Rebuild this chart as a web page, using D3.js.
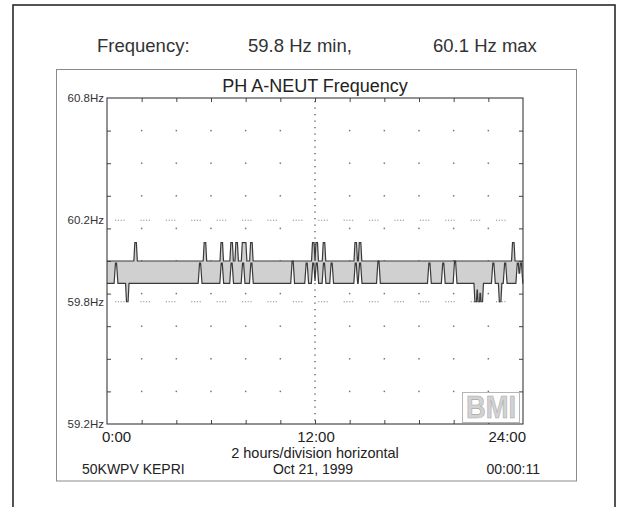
<!DOCTYPE html>
<html>
<head>
<meta charset="utf-8">
<script src="https://cdn.jsdelivr.net/npm/d3@7"></script>
<style>
  html, body { margin: 0; padding: 0; background: #fff; }
  svg { display: block; }
  text { font-family: "Liberation Sans", Arial, sans-serif; fill: #222; }
</style>
</head>
<body>
<svg id="chart" width="618" height="507"></svg>
<script>
// ---- data -------------------------------------------------------------
// Daily frequency envelope (hours 0–24): steady band between these two levels
const bandMax = 60.0;
const bandMin = 59.89;

// Short excursions of the upper envelope: [hour, Hz]
const maxPeaks = [
  [1.65, 60.09], [5.65, 60.09], [6.62, 60.09], [7.19, 60.09], [7.48, 60.09],
  [7.85, 60.09], [7.97, 60.09], [8.33, 60.09], [11.9, 60.09], [12.1, 60.09],
  [12.52, 60.09], [14.35, 60.09], [14.6, 60.09], [23.44, 60.09]
];
// Short dips of the lower envelope: [hour, Hz]
const minDips = [
  [1.17, 59.80], [21.27, 59.80], [21.45, 59.80], [21.62, 59.80], [22.68, 59.80]
];
// Moments where the lower envelope closes up toward the upper one: [hour, Hz]
const minRises = [
  [0.52, 59.99], [5.37, 59.99], [6.62, 59.99], [7.19, 59.99], [7.85, 59.99],
  [8.33, 59.99], [10.71, 60.0], [11.52, 59.99], [11.9, 59.99], [12.1, 59.99],
  [12.52, 59.99], [12.96, 59.99], [14.35, 59.99], [14.6, 59.99], [15.66, 60.0],
  [18.6, 59.99], [19.4, 59.99], [20.08, 60.0], [22.29, 59.99], [22.97, 59.99],
  [23.7, 59.99], [23.88, 59.99]
];

const hourTicks = [0, 2, 4, 6, 8, 10, 12, 14, 16, 18, 20, 22, 24];
const hourLabels = [[0, "0:00"], [12, "12:00"], [24, "24:00"]];
const hzLabels = [[60.8, "60.8Hz"], [60.2, "60.2Hz"], [59.8, "59.8Hz"], [59.2, "59.2Hz"]];
const hzDivisions = [60.64, 60.48, 60.32, 60.16, 60.0, 59.84, 59.68, 59.52, 59.36];
const hzDottedLines = [60.2, 59.8];

const headerTexts = ["Frequency:", "59.8 Hz min,", "60.1 Hz max"];
const chartTitle = "PH A-NEUT Frequency";
const xCaption = "2 hours/division horizontal";
const footer = ["50KWPV KEPRI", "Oct 21, 1999", "00:00:11"];

// ---- layout -----------------------------------------------------------
const svg = d3.select("#chart");
const plot = { left: 107, right: 523, top: 98, bottom: 424 };

const x = d3.scaleLinear().domain([0, 24]).range([plot.left, plot.right]);
const y = d3.scaleLinear().domain([59.2, 60.8]).range([plot.bottom, plot.top]);

// outer frame (open at the bottom edge)
svg.append("rect")
  .attr("x", 13).attr("y", 5).attr("width", 602).attr("height", 520)
  .attr("fill", "none").attr("stroke", "#2a2a2a").attr("stroke-width", 1.6);

// header line
const headerX = [97, 248, 433];
svg.selectAll("text.hdr").data(headerTexts).join("text")
  .attr("class", "hdr")
  .attr("x", (d, i) => headerX[i]).attr("y", 52)
  .attr("font-size", 18.5).style("fill", "#333")
  .text(d => d);

// instrument panel
svg.append("rect")
  .attr("x", 56.5).attr("y", 69.5).attr("width", 520).attr("height", 411.5)
  .attr("fill", "none").attr("stroke", "#8a8a8a").attr("stroke-width", 1);

svg.append("text")
  .attr("x", 315).attr("y", 92).attr("text-anchor", "middle")
  .attr("font-size", 18).text(chartTitle);

// ---- grid -------------------------------------------------------------
const g = svg.append("g");

// division dots
const dotCols = hourTicks.filter(h => h > 0 && h < 24 && h !== 12);
dotCols.forEach(h => {
  hzDivisions.forEach(v => {
    g.append("rect")
      .attr("x", x(h) - 0.75).attr("y", y(v) - 0.75)
      .attr("width", 1.5).attr("height", 1.5).attr("fill", "#777");
  });
});

// dotted reference levels
g.selectAll("line.ref").data(hzDottedLines).join("line")
  .attr("class", "ref")
  .attr("x1", plot.left + 2).attr("x2", plot.right - 2)
  .attr("y1", d => y(d)).attr("y2", d => y(d))
  .attr("stroke", "#8c8c8c").attr("stroke-width", 1.1)
  .attr("stroke-dasharray", "1.2,1.6,1.2,1.6,1.2,1.6,1.2,15.8")
  .attr("stroke-dashoffset", -6);

// dotted midday line
g.append("line")
  .attr("x1", x(12)).attr("x2", x(12))
  .attr("y1", plot.top + 3).attr("y2", plot.bottom)
  .attr("stroke", "#555").attr("stroke-width", 1.3)
  .attr("stroke-dasharray", "1.3,5.2");

// ---- envelope band ----------------------------------------------------
// trapezoidal excursion around each event time (ramp half-width w, flat half-width h)
function excursion(events, base, w, h) {
  return t => {
    let best = base;
    events.forEach(([te, v]) => {
      const d = Math.abs(t - te);
      if (d >= w) return;
      const k = d <= h ? 1 : (w - d) / (w - h);
      const val = base + (v - base) * k;
      if (Math.abs(val - base) > Math.abs(best - base)) best = val;
    });
    return best;
  };
}
const spikeW = 0.1, spikeH = 0.045, notchW = 0.11, notchH = 0.03;
const maxAt = excursion(maxPeaks, bandMax, spikeW, spikeH);
const dipAt = excursion(minDips, bandMin, spikeW, spikeH);
const riseAt = excursion(minRises, bandMin, notchW, notchH);
const minAt = t => {
  const a = dipAt(t), b = riseAt(t);
  return Math.abs(a - bandMin) > Math.abs(b - bandMin) ? a : b;
};

const sampleSet = new Set([0, 24]);
maxPeaks.concat(minDips).forEach(([t]) => [-spikeW, -spikeH, 0, spikeH, spikeW].forEach(o => sampleSet.add(+(t + o).toFixed(4))));
minRises.forEach(([t]) => [-notchW, -notchH, 0, notchH, notchW].forEach(o => sampleSet.add(+(t + o).toFixed(4))));
const envelope = Array.from(sampleSet).filter(t => t >= 0 && t <= 24).sort((a, b) => a - b)
  .map(t => ({ t, hi: maxAt(t), lo: minAt(t) }));

const band = svg.append("g");
band.append("path").datum(envelope)
  .attr("d", d3.area().x(d => x(d.t)).y0(d => y(d.lo)).y1(d => y(d.hi)))
  .attr("fill", "#d0d0d0");
band.append("path").datum(envelope)
  .attr("d", d3.line().x(d => x(d.t)).y(d => y(d.hi)))
  .attr("fill", "none").attr("stroke", "#3a3a3a").attr("stroke-width", 1.2);
band.append("path").datum(envelope)
  .attr("d", d3.line().x(d => x(d.t)).y(d => y(d.lo)))
  .attr("fill", "none").attr("stroke", "#3a3a3a").attr("stroke-width", 1.2);

// ---- axes / frame -----------------------------------------------------
const axisStyle = sel => {
  sel.select(".domain").remove();
  sel.selectAll("line").attr("stroke", "#444");
  sel.selectAll("text").remove();
};
svg.append("g").attr("transform", `translate(0,${plot.top})`)
  .call(d3.axisTop(x).tickValues(hourTicks.slice(1, -1)).tickSize(-4)).call(axisStyle);
svg.append("g").attr("transform", `translate(0,${plot.bottom})`)
  .call(d3.axisBottom(x).tickValues(hourTicks.slice(1, -1)).tickSize(-4)).call(axisStyle);
svg.append("g").attr("transform", `translate(${plot.left},0)`)
  .call(d3.axisLeft(y).tickValues(hzDivisions).tickSize(-4)).call(axisStyle);
svg.append("g").attr("transform", `translate(${plot.right},0)`)
  .call(d3.axisRight(y).tickValues(hzDivisions).tickSize(-4)).call(axisStyle);

svg.append("rect")
  .attr("x", plot.left).attr("y", plot.top)
  .attr("width", plot.right - plot.left).attr("height", plot.bottom - plot.top)
  .attr("fill", "none").attr("stroke", "#3a3a3a").attr("stroke-width", 1.1);

// value labels on the left
svg.selectAll("text.hz").data(hzLabels).join("text")
  .attr("class", "hz")
  .attr("x", plot.left - 3).attr("y", d => y(d[0]) + 4)
  .attr("text-anchor", "end").attr("font-size", 11.5).style("fill", "#333")
  .text(d => d[1]);

// hour labels
svg.selectAll("text.hr").data(hourLabels).join("text")
  .attr("class", "hr")
  .attr("x", d => d[0] === 0 ? x(d[0]) - 5 : d[0] === 24 ? x(d[0]) + 3 : x(d[0]) + 1)
  .attr("y", 442)
  .attr("text-anchor", d => d[0] === 0 ? "start" : d[0] === 24 ? "end" : "middle")
  .attr("font-size", 15)
  .text(d => d[1]);

svg.append("text")
  .attr("x", 315).attr("y", 458).attr("text-anchor", "middle")
  .attr("font-size", 14.5).text(xCaption);

const footX = [82, 313, 540], footAnchor = ["start", "middle", "end"];
svg.selectAll("text.ft").data(footer).join("text")
  .attr("class", "ft")
  .attr("x", (d, i) => footX[i]).attr("y", 474)
  .attr("text-anchor", (d, i) => footAnchor[i])
  .attr("font-size", 14).text(d => d);

// maker's mark in the lower right of the plot
svg.append("rect")
  .attr("x", 462.5).attr("y", 392.5).attr("width", 57).attr("height", 30)
  .attr("fill", "#fff").attr("stroke", "#b5b5b5").attr("stroke-width", 1);
svg.append("text")
  .attr("x", 491).attr("y", 418).attr("text-anchor", "middle")
  .attr("font-size", 31).attr("font-weight", "bold")
  .attr("textLength", 50).attr("lengthAdjust", "spacingAndGlyphs")
  .style("fill", "#d2d2d2").style("stroke", "#a8a8a8").style("stroke-width", 0.6)
  .text("BMI");
</script>
</body>
</html>
